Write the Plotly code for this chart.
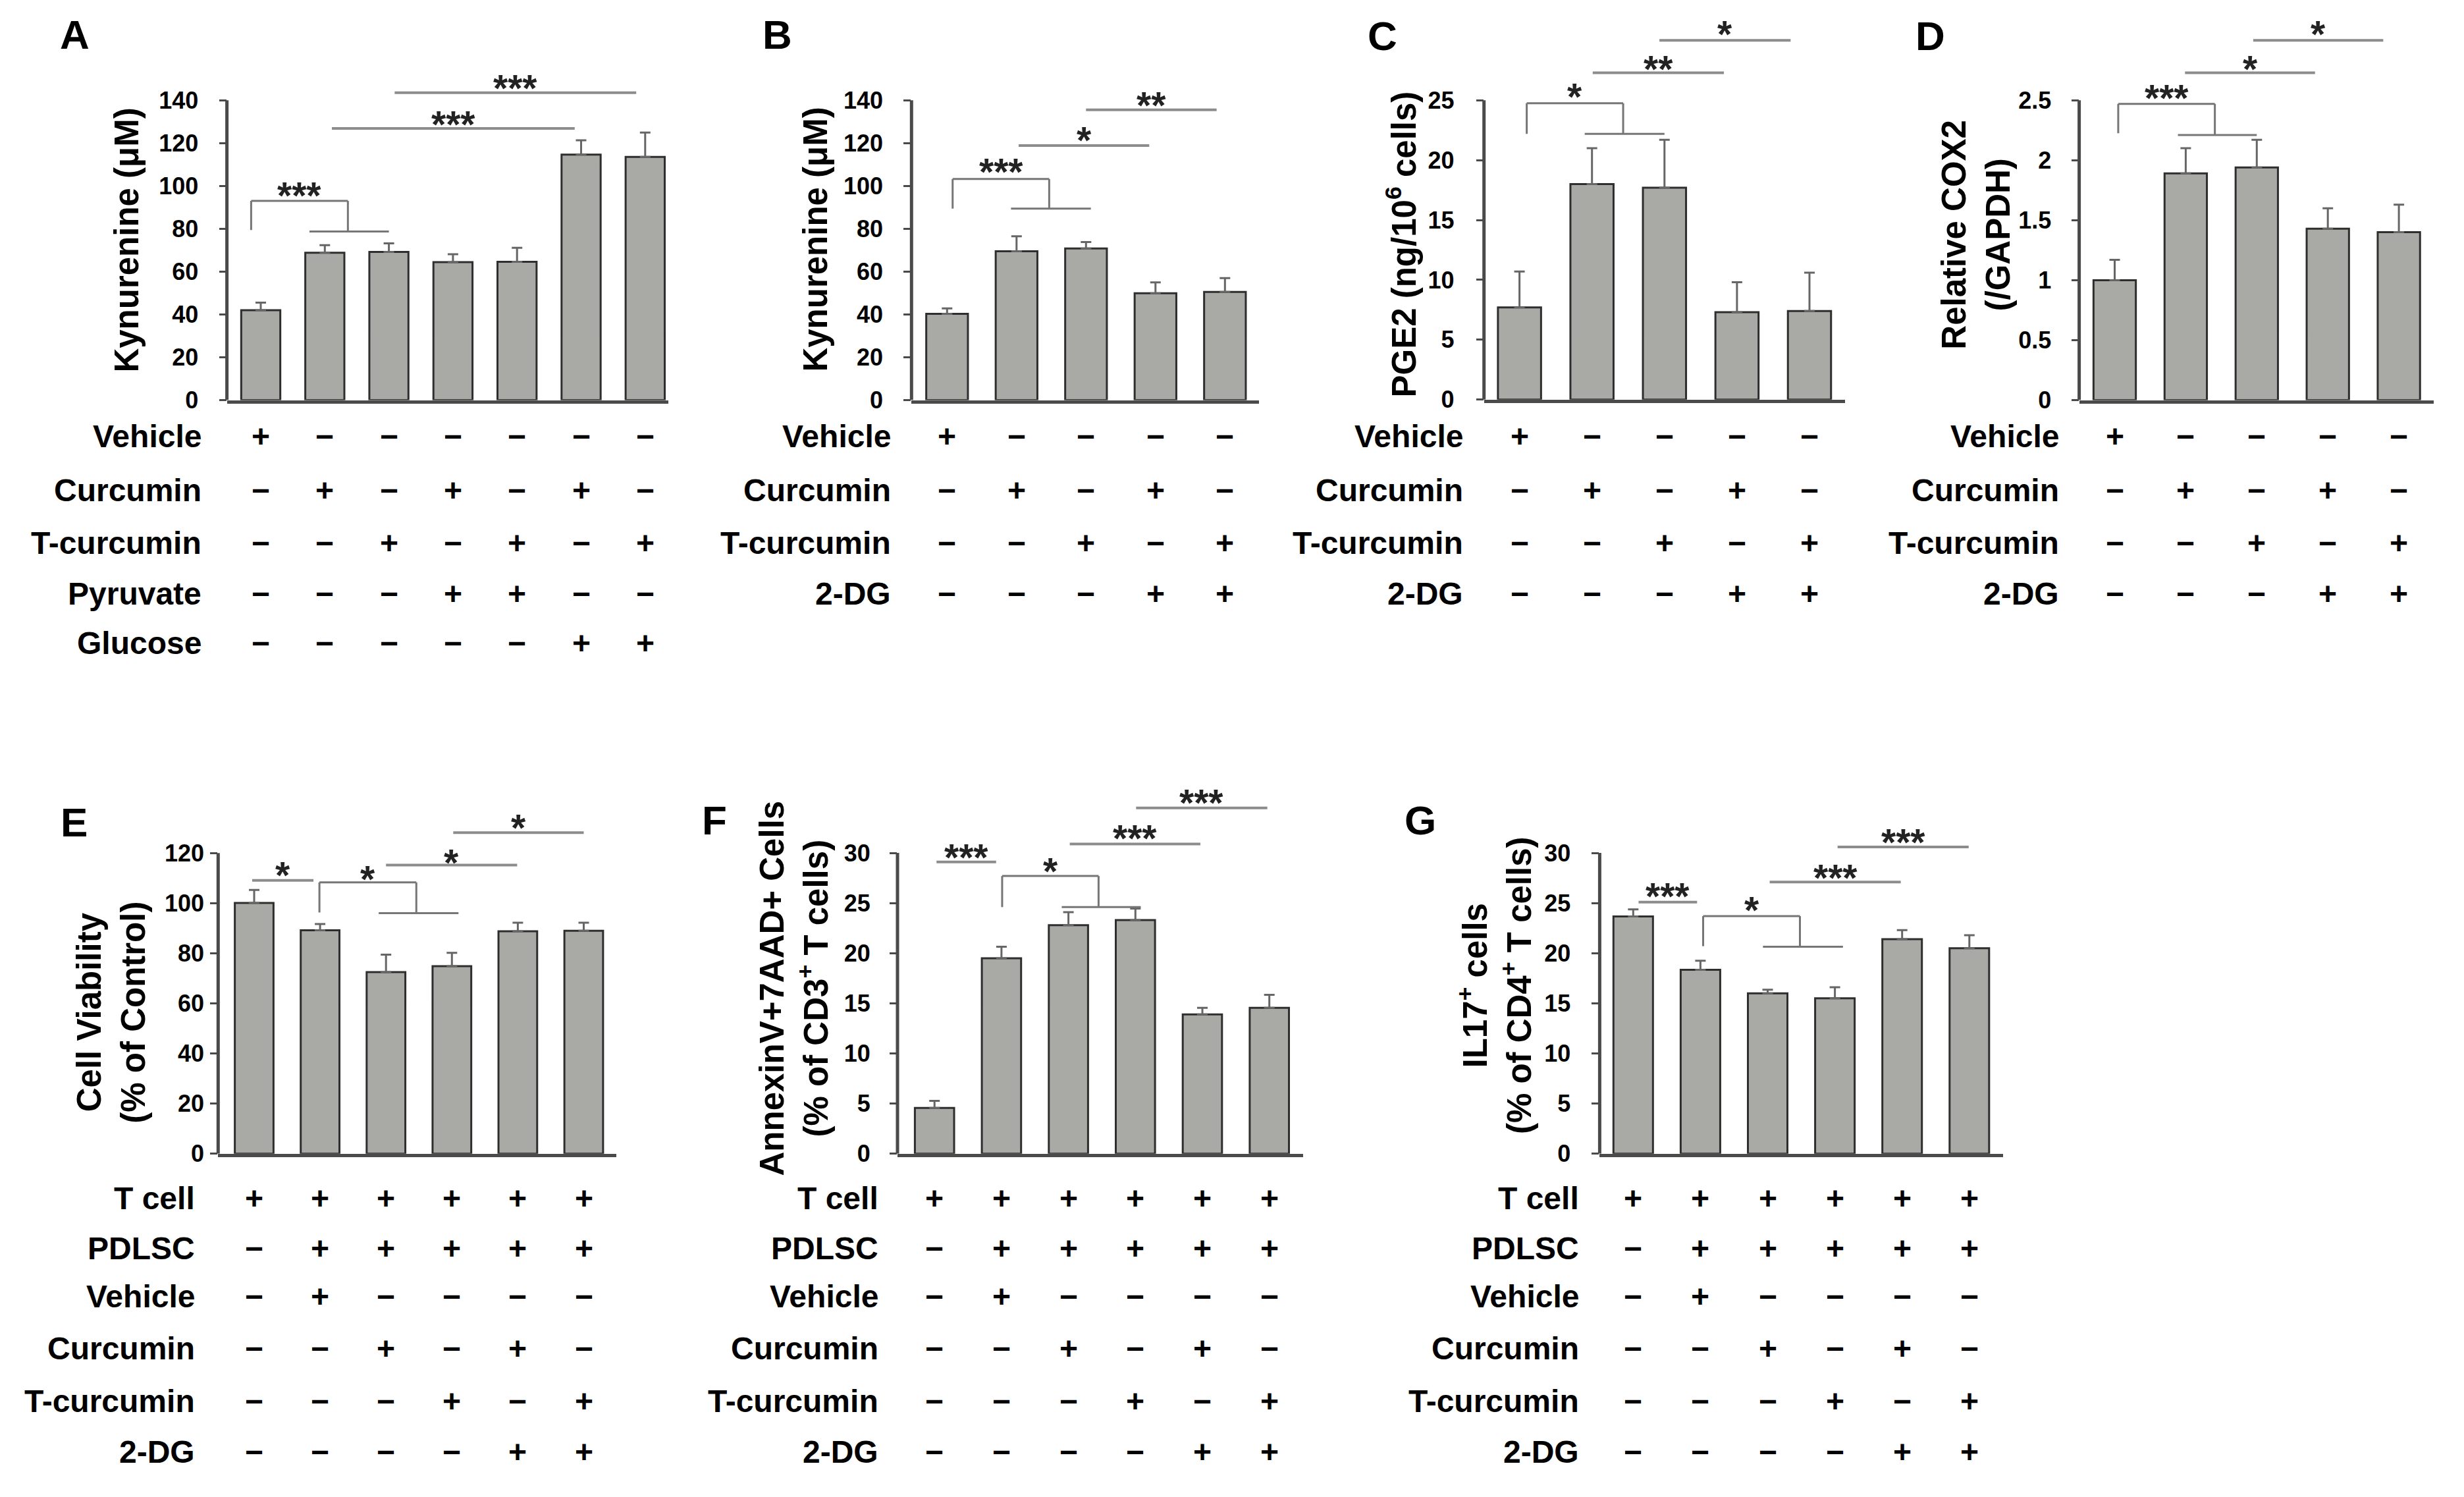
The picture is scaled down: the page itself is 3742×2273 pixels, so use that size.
import plotly.graph_objects as go

W, H = 3742, 2273
FONT = "Liberation Sans, Arial, Helvetica, sans-serif"

# ---------------- data ----------------
A_values = [42.0, 68.8, 69.2, 64.4, 64.6, 114.6, 113.5]
A_errors = [3.5, 3.5, 4.0, 3.7, 6.5, 6.7, 11.4]
B_values = [40.3, 69.5, 70.8, 49.9, 50.5]
B_errors = [2.5, 7.0, 3.0, 5.1, 6.5]
C_values = [7.7, 18.0, 17.7, 7.3, 7.4]
C_errors = [3.0, 3.0, 4.0, 2.5, 3.2]
D_values = [1.00, 1.89, 1.94, 1.43, 1.40]
D_errors = [0.17, 0.21, 0.23, 0.17, 0.23]
E_values = [100.1, 89.2, 72.5, 74.9, 88.8, 89.0]
E_errors = [5.2, 2.5, 7.0, 5.3, 3.4, 3.2]
F_values = [4.56, 19.5, 22.8, 23.3, 13.9, 14.55]
F_errors = [0.7, 1.15, 1.3, 1.15, 0.65, 1.3]
G_values = [23.67, 18.34, 16.0, 15.5, 21.4, 20.5]
G_errors = [0.7, 0.9, 0.35, 1.1, 0.9, 1.3]

A_ticks = [0, 20, 40, 60, 80, 100, 120, 140]
B_ticks = [0, 20, 40, 60, 80, 100, 120, 140]
C_ticks = [0, 5, 10, 15, 20, 25]
D_ticks = [0, 0.5, 1, 1.5, 2, 2.5]
D_ticktext = ["0", "0.5", "1", "1.5", "2", "2.5"]
E_ticks = [0, 20, 40, 60, 80, 100, 120]
F_ticks = [0, 5, 10, 15, 20, 25, 30]
G_ticks = [0, 5, 10, 15, 20, 25, 30]

A_title = "Kynurenine (μM)"
B_title = "Kynurenine (μM)"
C_title = "PGE2 (ng/10<sup>6</sup> cells)"
D_title = "Relative COX2<br>(/GAPDH)"
E_title = "Cell Viability<br>(% of Control)"
F_title = "AnnexinV+7AAD+ Cells<br>(% of CD3<sup>+</sup> T cells)"
G_title = "IL17<sup>+</sup> cells<br>(% of CD4<sup>+</sup> T cells)"

A_rows = ["Vehicle", "Curcumin", "T-curcumin", "Pyruvate", "Glucose"]
A_signs = ["+------", "-+-+-+-", "--+-+-+", "---++--", "-----++"]
BCD_rows = ["Vehicle", "Curcumin", "T-curcumin", "2-DG"]
BCD_signs = ["+----", "-+-+-", "--+-+", "---++"]
EFG_rows = ["T cell", "PDLSC", "Vehicle", "Curcumin", "T-curcumin", "2-DG"]
EFG_signs = ["++++++", "-+++++", "-+----", "--+-+-", "---+-+", "----++"]

# significance lines: (x_from, x_to, y_line, y_text, label)
A_lines = [(1.11, 4.90, 126.8, 132.0, "***"), (2.09, 5.86, 143.5, 149.0, "***")]
B_lines = [(1.03, 2.91, 118.8, 124.6, "*"), (2.00, 3.88, 135.5, 141.0, "**")]
C_lines = [(1.01, 2.82, 27.3, 28.2, "**"), (1.93, 3.74, 30.0, 31.1, "*")]
D_lines = [(0.99, 2.82, 2.73, 2.82, "*"), (1.95, 3.78, 3.00, 3.11, "*")]
E_lines = [(-0.03, 0.90, 109.1, 114.0, "*"), (2.00, 3.99, 115.2, 119.0, "*"),
           (3.02, 5.00, 128.2, 133.0, "*")]
F_lines = [(0.03, 0.92, 29.1, 30.3, "***"), (2.02, 3.97, 30.9, 32.2, "***"),
           (3.01, 4.97, 34.5, 35.7, "***")]
G_lines = [(0.08, 0.95, 25.1, 26.4, "***"), (2.03, 3.98, 27.1, 28.25, "***"),
           (3.04, 4.99, 30.6, 31.8, "***")]

# brackets: (x_left, y_left_bottom, y_top, x_right, y_low, x_low_from, x_low_to, y_text, label)
A_brackets = [(-0.15, 79.4, 93.0, 1.36, 78.7, 0.76, 2.00, 99.0, "***")]
B_brackets = [(0.08, 89.4, 103.2, 1.47, 89.4, 0.92, 2.07, 110.0, "***")]
C_brackets = [(0.10, 22.2, 24.75, 1.43, 22.2, 0.90, 2.00, 25.9, "*")]
D_brackets = [(0.05, 2.225, 2.47, 1.41, 2.21, 0.89, 2.00, 2.58, "***")]
E_brackets = [(0.99, 96.3, 108.3, 2.46, 96.0, 1.89, 3.10, 112.4, "*")]
F_brackets = [(1.01, 24.6, 27.7, 2.45, 24.6, 1.90, 3.08, 28.9, "*")]
G_brackets = [(1.04, 20.7, 23.7, 2.48, 20.65, 1.93, 3.12, 25.0, "*")]

# ---------------- styles / layout (pixels of the 3742x2273 canvas) ----------------
BAR = "#a9a9a5"
EDGE = "#2e2e2e"
ERR = "#666666"
AX = "#4a4a4a"
SIG = "#8c8c8c"
BRK = "#767676"

ROW1_Y = [669, 751, 832, 910, 986]
ROW2_Y = [1836, 1913, 1987, 2067, 2147, 2225]
R2 = 10  # vertical shift of row-2 plots

panels = [
    dict(label="A", values=A_values, errors=A_errors, ticks=A_ticks, ticktext=None, title=A_title,
         rows=A_rows, signs=A_signs, lines=A_lines, brackets=A_brackets,
         L=dict(axis=344.6, right=1015, c0=396, sp=97.3, y0=613.2, ppu=3.283, ytop=155,
                standoff=24, tx=193, ty=368, lx=113, ly=53, tabx=308, rowy=ROW1_Y, bw=0.61)),
    dict(label="B", values=B_values, errors=B_errors, ticks=B_ticks, ticktext=None, title=B_title,
         rows=BCD_rows, signs=BCD_signs, lines=B_lines, brackets=B_brackets,
         L=dict(axis=1384.3, right=1912, c0=1438.3, sp=105.5, y0=613.2, ppu=3.283, ytop=155,
                standoff=24, tx=1239, ty=367, lx=1180, ly=53, tabx=1355, rowy=ROW1_Y, bw=0.6)),
    dict(label="C", values=C_values, errors=C_errors, ticks=C_ticks, ticktext=None, title=C_title,
         rows=BCD_rows, signs=BCD_signs, lines=C_lines, brackets=C_brackets,
         L=dict(axis=2253.7, right=2801.8, c0=2307.6, sp=110.1, y0=612.4, ppu=18.35, ytop=32.5,
                standoff=26, tx=2128, ty=375, lx=2099, ly=55, tabx=2224, rowy=ROW1_Y, bw=0.595)),
    dict(label="D", values=D_values, errors=D_errors, ticks=D_ticks, ticktext=D_ticktext, title=D_title,
         rows=BCD_rows, signs=BCD_signs, lines=D_lines, brackets=D_brackets,
         L=dict(axis=3157.6, right=3696.4, c0=3211.5, sp=107.9, y0=613.2, ppu=183.8, ytop=3.25,
                standoff=23, tx=3001, ty=360, lx=2931, ly=55, tabx=3128.5, rowy=ROW1_Y, bw=0.596)),
    dict(label="E", values=E_values, errors=E_errors, ticks=E_ticks, ticktext=None, title=E_title,
         rows=EFG_rows, signs=EFG_signs, lines=E_lines, brackets=E_brackets,
         L=dict(axis=331.3, right=936.4, c0=386, sp=100.1, y0=1758.1 + R2, ppu=3.839, ytop=137,
                standoff=2, tx=169, ty=1542 + R2, lx=112, ly=1260, tabx=297.5, rowy=ROW2_Y, bw=0.587)),
    dict(label="F", values=F_values, errors=F_errors, ticks=F_ticks, ticktext=None, title=F_title,
         rows=EFG_rows, signs=EFG_signs, lines=F_lines, brackets=F_brackets,
         L=dict(axis=1363, right=1979, c0=1419.2, sp=101.7, y0=1758 + R2, ppu=15.36, ytop=36.8,
                standoff=22, tx=1205.5, ty=1505 + R2, lx=1085, ly=1257, tabx=1336, rowy=ROW2_Y, bw=0.586)),
    dict(label="G", values=G_values, errors=G_errors, ticks=G_ticks, ticktext=None, title=G_title,
         rows=EFG_rows, signs=EFG_signs, lines=G_lines, brackets=G_brackets,
         L=dict(axis=2429.4, right=3041.8, c0=2480.3, sp=102.1, y0=1758 + R2, ppu=15.36, ytop=36.8,
                standoff=25, tx=2270, ty=1500 + R2, lx=2157, ly=1257, tabx=2400, rowy=ROW2_Y, bw=0.588)),
]

TICK_FS = 36
ROW_FS = 48
SIGN_FS = 48
TITLE_FS = 51
LETTER_FS = 62
STAR_FS = 57

fig = go.Figure()


def fnt(size, color="black"):
    return dict(family=FONT, size=size, color=color, weight="bold")


for i, p in enumerate(panels):
    n = i + 1
    xa = "x" if n == 1 else f"x{n}"
    ya = "y" if n == 1 else f"y{n}"
    L = p["L"]
    vals, errs = p["values"], p["errors"]
    xs = list(range(len(vals)))

    fig.add_trace(go.Bar(
        x=xs, y=vals, width=L["bw"], xaxis=xa, yaxis=ya, showlegend=False, hoverinfo="skip",
        marker=dict(color=BAR, line=dict(color=EDGE, width=3)),
        error_y=dict(type="data", array=errs, arrayminus=[0] * len(errs), symmetric=False,
                     color=ERR, thickness=3, width=8),
    ))

    xl = (L["axis"] - L["c0"]) / L["sp"]
    xr = (L["right"] - L["c0"]) / L["sp"]
    dom_x = [L["axis"] / W, L["right"] / W]
    dom_y = [1 - L["y0"] / H, 1 - (L["y0"] - L["ytop"] * L["ppu"]) / H]

    fig.layout["xaxis" if n == 1 else f"xaxis{n}"] = dict(
        domain=dom_x, range=[xl, xr], anchor=ya, showline=True, linecolor=AX, linewidth=5,
        showticklabels=False, ticks="", showgrid=False, zeroline=False, fixedrange=True)
    ticktext = p["ticktext"] if p["ticktext"] else [str(t) for t in p["ticks"]]
    fig.layout["yaxis" if n == 1 else f"yaxis{n}"] = dict(
        domain=dom_y, range=[0, L["ytop"]], anchor=xa, showline=False, ticks="outside",
        ticklen=11, tickwidth=3, tickcolor=AX, tickvals=p["ticks"], ticktext=ticktext,
        tickfont=fnt(TICK_FS), ticklabelstandoff=L["standoff"], showgrid=False,
        zeroline=False, fixedrange=True)

    # y axis line only up to the top tick
    fig.add_shape(type="line", xref=f"{xa} domain", yref=ya, x0=0, x1=0,
                  y0=0, y1=max(p["ticks"]), line=dict(color=AX, width=5))

    # significance lines
    for (x0, x1, yl, yt, lab) in p["lines"]:
        fig.add_shape(type="line", xref=xa, yref=ya, x0=x0, x1=x1, y0=yl, y1=yl,
                      line=dict(color=SIG, width=4))
        fig.add_annotation(xref=xa, yref=ya, x=(x0 + x1) / 2, y=yt, text=lab,
                           showarrow=False, font=fnt(STAR_FS, "#222222"),
                           xanchor="center", yanchor="middle", yshift=-11)
    # brackets
    for (bxl, byl, byt, bxr, bylow, lx0, lx1, yt, lab) in p["brackets"]:
        segs = [(bxl, byl, bxl, byt), (bxl, byt, bxr, byt), (bxr, byt, bxr, bylow),
                (lx0, bylow, lx1, bylow)]
        for (sx0, sy0, sx1, sy1) in segs:
            fig.add_shape(type="line", xref=xa, yref=ya, x0=sx0, y0=sy0, x1=sx1, y1=sy1,
                          line=dict(color=BRK, width=3))
        fig.add_annotation(xref=xa, yref=ya, x=(bxl + bxr) / 2, y=yt, text=lab,
                           showarrow=False, font=fnt(STAR_FS, "#222222"),
                           xanchor="center", yanchor="middle", yshift=-11)

    # y title
    fig.add_annotation(xref="paper", yref="paper", x=L["tx"] / W, y=1 - L["ty"] / H,
                       text=p["title"], textangle=-90, showarrow=False, align="center",
                       font=fnt(TITLE_FS), xanchor="center", yanchor="middle")
    # panel letter
    fig.add_annotation(xref="paper", yref="paper", x=L["lx"] / W, y=1 - L["ly"] / H,
                       text=p["label"], showarrow=False, font=fnt(LETTER_FS),
                       xanchor="center", yanchor="middle")
    # treatment table
    for r, (name, signs) in enumerate(zip(p["rows"], p["signs"])):
        yy = 1 - L["rowy"][r] / H
        fig.add_annotation(xref="paper", yref="paper", x=L["tabx"] / W, y=yy, text=name,
                           showarrow=False, font=fnt(ROW_FS), xanchor="right", yanchor="middle")
        for j, s in enumerate(signs):
            fig.add_annotation(xref=xa, yref="paper", x=j, y=yy,
                               text="+" if s == "+" else "\u2212",
                               showarrow=False, font=fnt(SIGN_FS),
                               xanchor="center", yanchor="middle")

fig.update_layout(
    width=W, height=H, margin=dict(l=0, r=0, t=0, b=0, pad=0),
    paper_bgcolor="white", plot_bgcolor="white", showlegend=False,
    font=dict(family=FONT, color="black"),
)

fig.write_html("out.html", config={"displayModeBar": False},
               post_script="document.body.style.margin='0';document.body.style.overflow='hidden';")
